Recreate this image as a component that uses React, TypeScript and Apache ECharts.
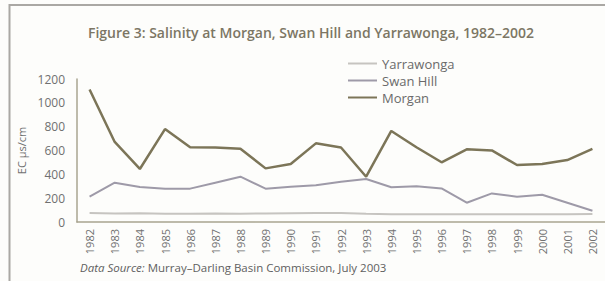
import React, { useEffect, useRef } from "react";
import * as echarts from "echarts";

const years = ["1982","1983","1984","1985","1986","1987","1988","1989","1990","1991","1992","1993","1994","1995","1996","1997","1998","1999","2000","2001","2002"];
const yarrawonga = [75, 72, 74, 70, 70, 72, 70, 72, 74, 75, 75, 70, 66, 66, 66, 66, 66, 66, 66, 66, 68];
const swanHill = [212, 330, 294, 280, 280, 330, 380, 280, 296, 308, 338, 361, 291, 299, 282, 162, 240, 212, 229, 162, 95];
const morgan = [1112, 672, 445, 780, 627, 625, 615, 450, 487, 660, 625, 380, 764, 627, 501, 610, 601, 478, 487, 520, 613];

const FONT = "'Open Sans', Lato, sans-serif";
const C_YAR = "#c6c4c0";
const C_SWAN = "#9e9aa8";
const C_MOR = "#7c7558";

export default function App() {
  const ref = useRef<HTMLDivElement>(null);
  useEffect(() => {
    if (!ref.current) return;
    const chart = echarts.init(ref.current, null, { renderer: "svg" });
    chart.setOption({
      animation: false,
      backgroundColor: "#fdfdfb",
      textStyle: { fontFamily: FONT },
      title: {
        text: "Figure 3: Salinity at Morgan, Swan Hill and Yarrawonga, 1982–2002",
        left: 306,
        textAlign: "center",
        top: 20,
        textStyle: { fontFamily: FONT, fontSize: 14, fontWeight: 600, color: "#7c7664" },
      },
      legend: {
        orient: "vertical",
        left: 343,
        top: 52,
        itemWidth: 29,
        itemHeight: 2,
        itemGap: 4,
        icon: "rect",
        data: ["Yarrawonga", "Swan Hill", "Morgan"],
        textStyle: { fontFamily: FONT, fontSize: 13, color: "#6a6a6a" },
      },
      grid: { left: 77, right: 0, top: 79, bottom: 59 },
      xAxis: {
        type: "category",
        data: years,
        boundaryGap: true,
        axisLine: { lineStyle: { color: "#a8a490", width: 1.5 } },
        axisTick: { show: false },
        axisLabel: { rotate: 90, margin: 7, fontSize: 11, color: "#707070", fontFamily: FONT },
      },
      yAxis: {
        type: "value",
        min: 0,
        max: 1200,
        interval: 200,
        name: "EC µs/cm",
        nameLocation: "middle",
        nameGap: 46,
        nameRotate: 90,
        nameTextStyle: { fontSize: 11, color: "#707070", fontFamily: FONT },
        axisLine: { show: true, lineStyle: { color: "#a8a490", width: 1.5 } },
        axisTick: { show: false },
        splitLine: { show: false },
        axisLabel: { margin: 12, fontSize: 12, color: "#707070", fontFamily: FONT, formatter: (v: number) => String(v) },
      },
      series: [
        { name: "Yarrawonga", type: "line", data: yarrawonga, showSymbol: false, symbol: "none", color: C_YAR, lineStyle: { color: C_YAR, width: 2 } },
        { name: "Swan Hill", type: "line", data: swanHill, showSymbol: false, symbol: "none", color: C_SWAN, lineStyle: { color: C_SWAN, width: 2 } },
        { name: "Morgan", type: "line", data: morgan, showSymbol: false, symbol: "none", color: C_MOR, lineStyle: { color: C_MOR, width: 2.5 } },
      ],
      graphic: [
        {
          type: "polyline",
          shape: { points: [[9.5, 281], [9.5, 5], [605, 5]] },
          style: { stroke: "#aaa8a4", lineWidth: 2, fill: "none" },
          silent: true,
        },
        {
          type: "text",
          left: 80,
          top: 261,
          style: {
            text: "{i|Data Source:} Murray–Darling Basin Commission, July 2003",
            font: `11.5px ${FONT}`,
            fill: "#606060",
            rich: { i: { fontStyle: "italic", fontSize: 11.5, fontFamily: FONT, fill: "#606060" } },
          },
        },
      ],
    });
    return () => chart.dispose();
  }, []);
  return <div ref={ref} style={{ position: "fixed", left: 0, top: 0, width: 605, height: 281 }} />;
}
